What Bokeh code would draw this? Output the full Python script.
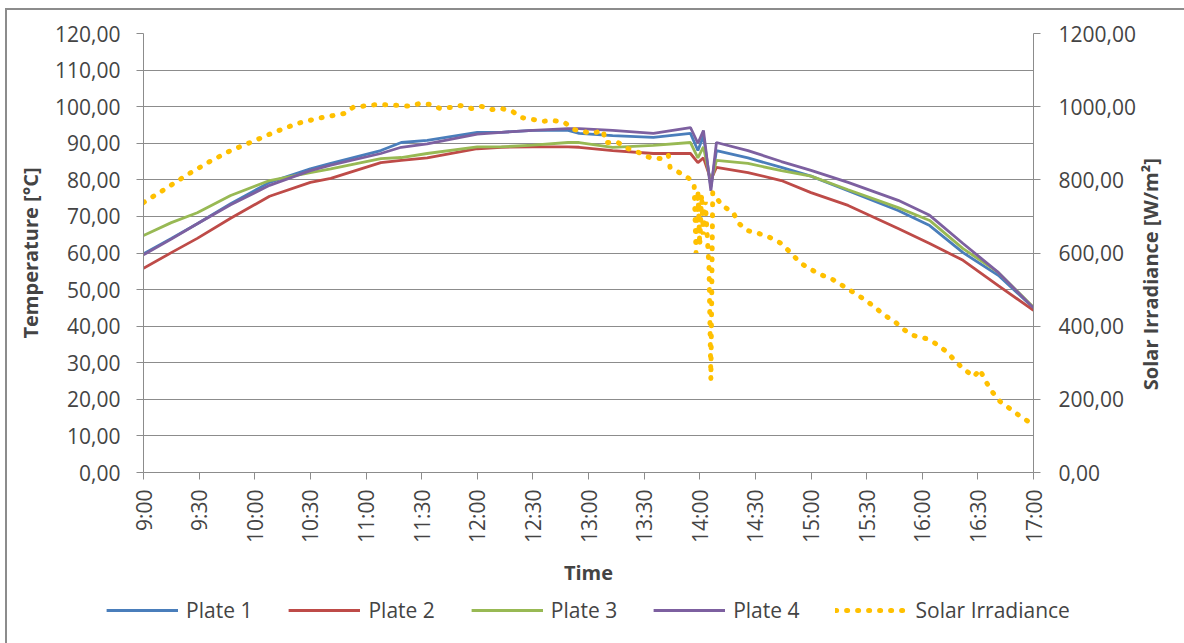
import math
from bokeh.plotting import figure
from bokeh.layouts import column
from bokeh.models import Range1d, LinearAxis, FixedTicker, Legend, LegendItem
from bokeh.embed import file_html
from bokeh.resources import INLINE

# ---------------- data (minutes after 9:00) ----------------
plate_minutes = [0, 15, 29, 47, 68, 90, 101, 128, 139, 153, 180, 193, 210, 229, 235, 253, 275,
                 295, 299, 302, 306, 309, 326, 344, 360, 380, 407, 424, 442, 461, 480]
plate1 = [59.8, 64.0, 68.0, 73.5, 79.3, 83.0, 84.5, 88.0, 90.2, 90.8, 93.0, 93.0, 93.5, 93.5, 92.7,
          92.1, 91.6, 92.7, 88.0, 92.0, 78.0, 88.0, 86.0, 83.4, 81.0, 77.0, 71.6, 67.5, 60.1, 53.9, 45.0]
plate2 = [55.8, 60.1, 64.0, 69.5, 75.5, 79.3, 80.4, 84.7, 85.3, 86.0, 88.5, 88.9, 89.0, 89.0, 88.9,
          88.0, 87.2, 87.2, 84.7, 86.0, 80.0, 83.4, 82.0, 79.8, 76.5, 73.0, 66.7, 62.6, 58.0, 51.1, 44.3]
plate3 = [64.8, 68.3, 71.0, 75.7, 79.8, 82.0, 83.0, 85.8, 86.1, 87.2, 89.0, 89.0, 89.5, 90.2, 90.2,
          88.9, 89.4, 90.2, 86.0, 89.0, 79.0, 85.3, 84.5, 82.5, 81.0, 77.3, 72.4, 68.9, 61.2, 54.7, 45.2]
plate4 = [59.5, 63.8, 68.0, 73.2, 78.5, 82.5, 84.0, 87.2, 88.9, 89.8, 92.5, 93.0, 93.5, 94.0, 94.0,
          93.5, 92.7, 94.3, 90.0, 93.5, 77.0, 90.2, 88.0, 85.0, 82.6, 79.3, 74.4, 70.3, 62.6, 54.7, 45.0]

irr_minutes = [0, 12, 23, 35, 47, 59, 70, 83, 94, 108, 113, 126, 139, 144, 149, 155, 160, 166, 171,
               177, 182, 188, 193, 199, 204, 210, 215, 221, 227, 232, 237, 242, 248, 249, 256, 261,
               267, 273, 279, 283, 284, 290, 295, 297, 298, 299, 300, 301, 302, 303, 305, 306, 307,
               312, 318, 321, 326, 332, 338, 344, 349, 354, 359, 365, 371, 377, 382, 388, 394, 399,
               405, 410, 415, 422, 427, 433, 437, 442, 448, 451, 454, 458, 462, 468, 473, 478, 480]
irradiance = [738, 776, 812, 848, 880, 905, 929, 954, 968, 981, 998, 1006, 1003, 1001, 1009, 1006,
              995, 998, 1003, 995, 1001, 992, 995, 987, 970, 965, 960, 962, 957, 938, 932, 927, 935,
              902, 902, 886, 875, 861, 858, 869, 834, 817, 801, 785, 600, 770, 620, 760, 650, 740,
              560, 255, 765, 730, 711, 681, 661, 653, 642, 626, 601, 574, 558, 541, 530, 511, 495,
              476, 454, 432, 413, 391, 375, 366, 353, 331, 309, 284, 262, 282, 251, 219, 194, 172,
              153, 137, 132]

time_ticks = [0, 30, 60, 90, 120, 150, 180, 210, 240, 270, 300, 330, 360, 390, 420, 450, 480]
time_labels = ["9:00", "9:30", "10:00", "10:30", "11:00", "11:30", "12:00", "12:30", "13:00",
               "13:30", "14:00", "14:30", "15:00", "15:30", "16:00", "16:30", "17:00"]
temp_ticks = [0, 10, 20, 30, 40, 50, 60, 70, 80, 90, 100, 110, 120]
temp_labels = ["0,00", "10,00", "20,00", "30,00", "40,00", "50,00", "60,00", "70,00", "80,00",
               "90,00", "100,00", "110,00", "120,00"]
irr_ticks = [0, 200, 400, 600, 800, 1000, 1200]
irr_labels = ["0,00", "200,00", "400,00", "600,00", "800,00", "1000,00", "1200,00"]

series_names = ["Plate 1", "Plate 2", "Plate 3", "Plate 4", "Solar Irradiance"]
series_colors = ["#4a7ebb", "#be4b48", "#98b954", "#7d60a0", "#ffc000"]
irr_title = "Solar Irradiance [W/m²]"

FONT = "Open Sans"
GRAY = "#8c8c8c"
IRR_TITLE_START = 225   # layout: where the rotated right-hand title begins (irradiance scale)

p = figure(width=1184, height=590, output_backend="svg", toolbar_location=None,
           x_range=Range1d(0, 480), y_range=Range1d(0, 120),
           min_border_left=143, min_border_right=151, min_border_top=33, min_border_bottom=118,
           background_fill_color="white", border_fill_alpha=0)
p.outline_line_color = None
p.xgrid.visible = False
p.ygrid.ticker = FixedTicker(ticks=temp_ticks)
p.ygrid.grid_line_color = GRAY
p.ygrid.grid_line_width = 1

# x axis
xa = p.xaxis[0]
xa.ticker = FixedTicker(ticks=time_ticks)
xa.major_label_overrides = {t: l for t, l in zip(time_ticks, time_labels)}
xa.major_label_orientation = math.pi / 2
xa.axis_label = "Time"
xa.axis_label_text_font = FONT
xa.axis_label_text_font_style = "bold"
xa.axis_label_text_font_size = "20px"
xa.axis_label_standoff = 13
xa.major_label_text_font = FONT
xa.major_label_text_font_size = "21px"
xa.major_label_standoff = 10
xa.axis_line_color = GRAY
xa.major_tick_line_color = GRAY
xa.major_tick_out = 7
xa.major_tick_in = 0
xa.minor_tick_line_color = None

# left axis
ya = p.yaxis[0]
ya.ticker = FixedTicker(ticks=temp_ticks)
ya.major_label_overrides = {t: l for t, l in zip(temp_ticks, temp_labels)}
ya.axis_label = "Temperature [°C]"
ya.axis_label_text_font = FONT
ya.axis_label_text_font_style = "bold"
ya.axis_label_text_font_size = "20px"
ya.axis_label_standoff = 8
ya.major_label_text_font = FONT
ya.major_label_text_font_size = "21px"
ya.major_label_standoff = 16
ya.axis_line_color = GRAY
ya.major_tick_line_color = GRAY
ya.major_tick_out = 7
ya.major_tick_in = 0
ya.minor_tick_line_color = None

# right axis (values)
p.extra_y_ranges = {"irr": Range1d(irr_ticks[0], irr_ticks[-1])}
ra = LinearAxis(y_range_name="irr", ticker=FixedTicker(ticks=irr_ticks))
ra.major_label_overrides = {t: l for t, l in zip(irr_ticks, irr_labels)}
ra.major_label_text_font = FONT
ra.major_label_text_font_size = "21px"
ra.major_label_standoff = 18
ra.axis_line_color = GRAY
ra.major_tick_line_color = GRAY
ra.major_tick_out = 7
ra.major_tick_in = 0
ra.minor_tick_line_color = None
p.add_layout(ra, "right")

# right axis title, written bottom-to-top
ra2 = LinearAxis(y_range_name="irr", ticker=FixedTicker(ticks=[IRR_TITLE_START]))
ra2.major_label_overrides = {IRR_TITLE_START: irr_title}
ra2.major_label_orientation = math.pi / 2
ra2.major_label_text_font = FONT
ra2.major_label_text_font_style = "bold"
ra2.major_label_text_font_size = "20px"
ra2.major_label_standoff = 12
ra2.axis_line_color = None
ra2.major_tick_line_color = None
ra2.minor_tick_line_color = None
ra2.major_tick_out = 0
ra2.major_tick_in = 0
p.add_layout(ra2, "right")

for ys, c in zip([plate1, plate2, plate3, plate4], series_colors[:4]):
    p.line(plate_minutes, ys, line_color=c, line_width=2.8)
p.line(irr_minutes, irradiance, y_range_name="irr", line_color=series_colors[4],
       line_width=5, line_dash="1 10", line_cap="round")

# ---------------- legend strip (own small figure, below the chart) ----------------
# its frame shows a range where no data lies, so only the legend is visible
lg = figure(width=1184, height=53, output_backend="svg", toolbar_location=None,
            x_range=Range1d(0, 480), y_range=Range1d(2000, 2001),
            min_border_left=0, min_border_right=0, min_border_top=0, min_border_bottom=17,
            background_fill_alpha=0, border_fill_alpha=0)
lg.axis.visible = False
lg.grid.visible = False
lg.outline_line_color = None
items = []
for i, (n, c) in enumerate(zip(series_names, series_colors)):
    if i < 4:
        r = lg.line(plate_minutes, [plate1, plate2, plate3, plate4][i], line_color=c, line_width=2.8)
    else:
        r = lg.line(irr_minutes, irradiance, line_color=c, line_width=5, line_dash="1 10",
                    line_cap="round")
    items.append(LegendItem(label=n, renderers=[r]))
legend = Legend(items=items, orientation="horizontal", location="center",
                glyph_width=72, glyph_height=20, label_standoff=8, spacing=36, padding=2,
                margin=0, border_line_color=None, background_fill_alpha=0,
                label_text_font=FONT, label_text_font_size="21px")
lg.add_layout(legend, "above")

layout = column(p, lg, spacing=0,
                styles={"background": "linear-gradient(#8c8c8c,#8c8c8c) 5px 8px / 2px 100% no-repeat, "
                                      "linear-gradient(#8c8c8c,#8c8c8c) 5px 8px / 100% 2px no-repeat, white"})

open("out.html", "w").write(file_html(layout, INLINE))
